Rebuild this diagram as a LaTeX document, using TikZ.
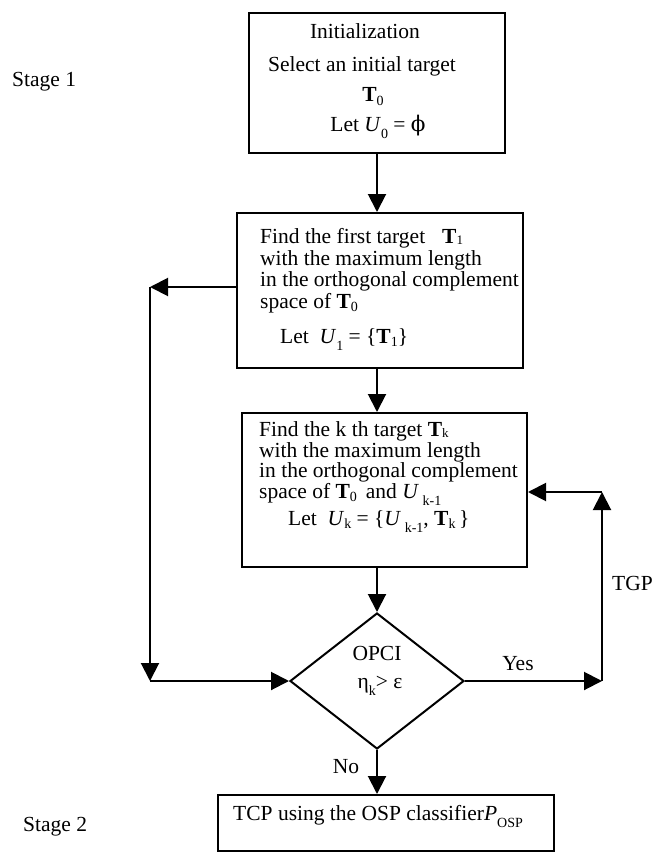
\documentclass[tikz,border=0pt]{standalone}
\usepackage{fontspec}
\setmainfont{Liberation Serif}
\newfontfamily\grk{DejaVu Serif}
\usetikzlibrary{arrows.meta,shapes.geometric}
\newcommand{\fs}{\fontsize{21.5}{22}\selectfont}
\newcommand{\sbs}[1]{\raisebox{-3.5pt}{\fontsize{14}{14}\selectfont #1}}
\newcommand{\sbt}[1]{\raisebox{-1.5pt}{\fontsize{13}{13}\selectfont #1}}
\newcommand{\sbl}[1]{\raisebox{-7pt}{\fontsize{14}{14}\selectfont #1}}
\newcommand{\bT}{\textbf{T}}
\newcommand{\iU}{\textit{U}}
\tikzset{
  box/.style={draw, line width=2pt, inner sep=0pt},
  arr/.style={line width=2pt, -{Triangle[length=18pt,width=18pt]}},
  txt/.style={inner sep=0pt, font=\fs}
}
\begin{document}
\begin{tikzpicture}[x=1pt,y=-1pt]
\useasboundingbox (0,0) rectangle (654,853);
% boxes
\node[box, minimum width=256pt, minimum height=140pt] (b1) at (377,83) {};
\node[box, minimum width=286pt, minimum height=155pt] (b2) at (380,290.5) {};
\node[box, minimum width=285pt, minimum height=154pt] (b3) at (384.5,490) {};
\node[box, diamond, aspect=1.28, minimum width=174pt, minimum height=136pt] (d) at (377,681) {};
\node[box, minimum width=336pt, minimum height=56pt] (b4) at (386,823) {};
% texts box1
\node[txt, anchor=base] (t11) at (365,39) {Initialization};
\node[txt, anchor=base] (t12) at (362,72) {Select an initial target};
\node[txt, anchor=base] (t13) at (373,102) {\bT\sbs{0}};
\node[txt, anchor=base] (t14) at (378,132) {Let \iU\sbl{0} = {\grk ϕ}};
% texts box2
\node[txt, anchor=base west] (t21) at (260,243) {Find the first target};
\node[txt, anchor=base west] (t21b) at (442,243) {\bT\sbt{1}};
\node[txt, anchor=base west] (t22) at (260,265) {with the maximum length};
\node[txt, anchor=base west] (t23) at (260,286) {in the orthogonal complement};
\node[txt, anchor=base west] (t24) at (260,308) {space of \bT\sbs{0}};
\node[txt, anchor=base west] (t25) at (280,343) {Let\enspace \iU\sbl{1} = \{\bT\sbs{1}\}};
% texts box3
\node[txt, anchor=base west] (t31) at (259,436) {Find the k th target \bT\sbt{k}};
\node[txt, anchor=base west] (t32) at (259,457) {with the maximum length};
\node[txt, anchor=base west] (t33) at (259,477) {in the orthogonal complement};
\node[txt, anchor=base west] (t34) at (259,498) {space of \bT\sbs{0}\, and \iU\,\sbl{k-1}};
\node[txt, anchor=base west] (t35) at (288,525) {Let\enspace \iU\sbs{k} = \{\iU\,\sbl{k-1}, \bT\sbs{k}\,\}};
% diamond text
\node[txt, anchor=base] (td1) at (377,660) {OPCI};
\node[txt, anchor=base] (td2) at (380,688) {η\sbl{k}> ε};
% box4 text
\node[txt, anchor=base west] (t41) at (233,820) {TCP using the OSP classifier\textit{P}\sbl{OSP}};
% labels
\node[txt, anchor=base] (yes) at (518,670) {Yes};
\node[txt, anchor=base west] (tgp) at (612,590) {TGP};
\node[txt, anchor=base] (no) at (346,773) {No};
\node[txt, anchor=base west] (s1) at (12,87) {Stage 1};
\node[txt, anchor=base west] (s2) at (23,831) {Stage 2};
% connectors
\coordinate (lc1) at (150,287);
\coordinate (lc2) at (150,681);
\coordinate (rc1) at (602,681);
\coordinate (rc2) at (602,492);
\draw[arr] (b1.south -| d.north) -- (b2.north -| d.north);
\draw[arr] (b2.south -| d.north) -- (b3.north -| d.north);
\draw[arr] (b3.south -| d.north) -- (d.north);
\draw[arr] (d.south) -- (b4.north -| d.south);
\draw[arr] (b2.west |- lc1) -- (lc1);
\draw[arr] (lc1) -- (lc2);
\draw[arr] (lc2) -- (d.west);
\draw[arr] (d.east) -- (rc1);
\draw[arr] (rc1) -- (rc2);
\draw[arr] (rc2) -- (b3.east |- rc2);
\end{tikzpicture}
\end{document}
